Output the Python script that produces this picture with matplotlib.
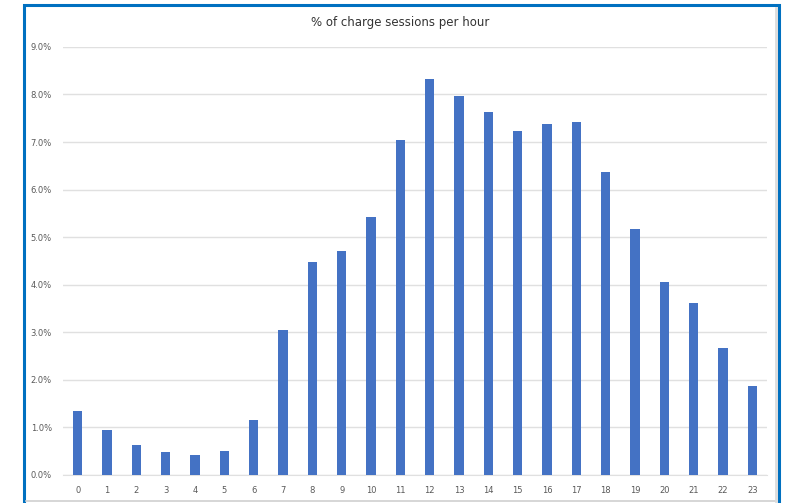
import matplotlib
matplotlib.use("Agg")
import matplotlib.pyplot as plt
from matplotlib.patches import Rectangle
from matplotlib.ticker import FuncFormatter

# share of charge sessions starting in each hour of the day (%)
hours = list(range(24))
share = [1.35, 0.95, 0.62, 0.48, 0.42, 0.50, 1.16, 3.04, 4.47, 4.70,
         5.43, 7.05, 8.33, 7.96, 7.64, 7.24, 7.37, 7.42, 6.36, 5.18,
         4.05, 3.62, 2.68, 1.87]
yticks = [0, 1, 2, 3, 4, 5, 6, 7, 8, 9]

fig = plt.figure(figsize=(7.87, 5.03), dpi=100)
fig.patch.set_facecolor("white")

ax = fig.add_axes([0.080, 0.0557, 0.8946, 0.851])
ax.bar(hours, share, width=0.31, color="#4472C4", zorder=3)

ax.set_xlim(-0.5, 23.5)
ax.set_ylim(0, 9)
ax.set_xticks(hours)
ax.set_yticks(yticks)
ax.yaxis.set_major_formatter(FuncFormatter(lambda v, p: f"{v:.1f}%"))
ax.grid(axis="y", color="#e0e0e0", linewidth=1, zorder=0)
for s in ax.spines.values():
    s.set_visible(False)
ax.spines["bottom"].set_visible(True)
ax.spines["bottom"].set_color("#e0e0e0")
ax.tick_params(length=0, labelsize=6, labelcolor="#595959")
ax.tick_params(axis="x", pad=8)
ax.tick_params(axis="y", pad=8)

fig.text(0.508, 0.955, "% of charge sessions per hour", ha="center", va="center",
         fontsize=8.5, color="#333333")

# faint line along the bottom edge and shadow inside the right edge
fig.add_artist(plt.Line2D([26 / 787, 776 / 787], [0.004, 0.004],
                          transform=fig.transFigure, color="#d0d0d0", linewidth=1.2))
fig.add_artist(plt.Line2D([776 / 787, 776 / 787], [0.004, 0.985],
                          transform=fig.transFigure, color="#dcdcdc", linewidth=2))

# blue frame round the chart
fig.patches.append(Rectangle((24 / 787, -0.01), 755 / 787, 1 - 5 / 503 + 0.01,
                             transform=fig.transFigure, fill=False,
                             edgecolor="#0070C0", linewidth=2.2))

fig.savefig("out.png", dpi=100)
